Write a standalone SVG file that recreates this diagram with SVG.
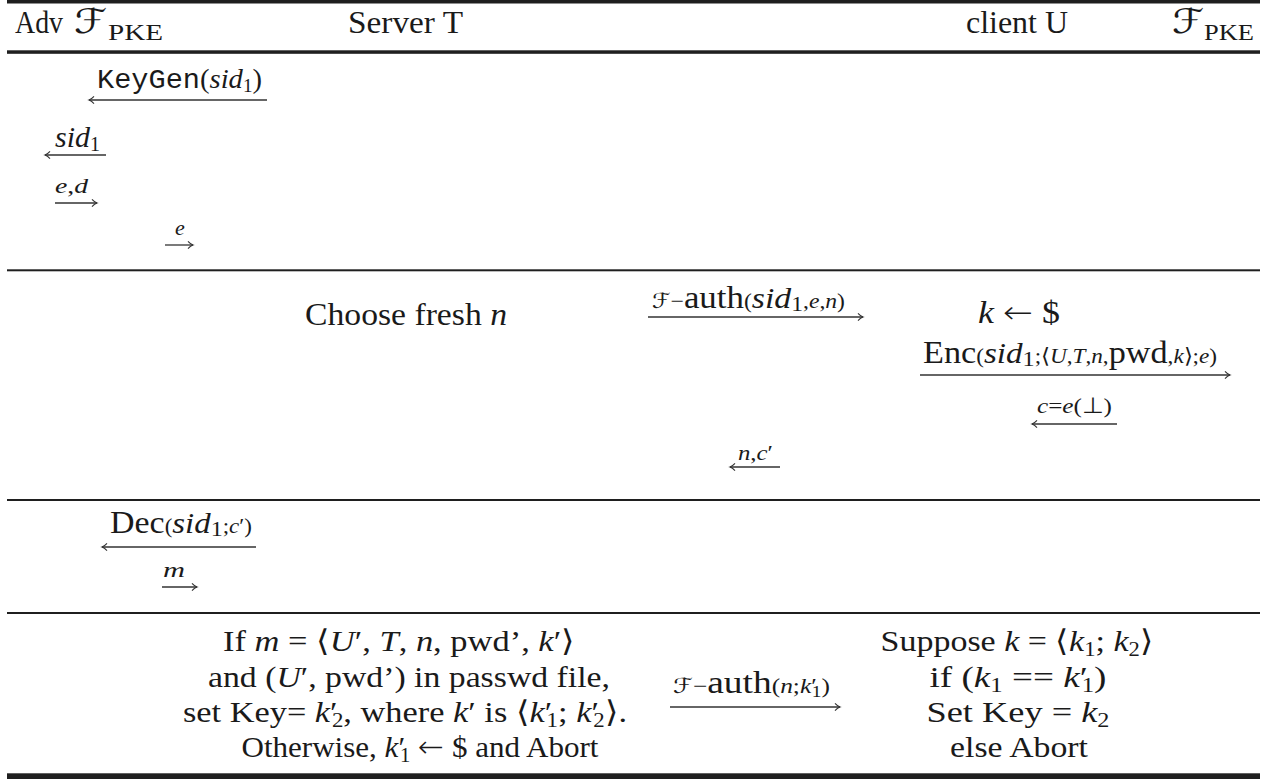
<svg xmlns="http://www.w3.org/2000/svg" width="1267" height="779" viewBox="0 0 1267 779">
  <style>
    .t { font-family: "Liberation Serif", "DejaVu Serif", serif; fill: #1a1a1a; }
    .i { font-style: italic; }
    .m { font-family: "Liberation Mono", monospace; }
    .cal { font-family: "DejaVu Serif", "DejaVu Sans", serif; font-style: italic; }
    .sym { font-family: "DejaVu Sans", sans-serif; font-style: normal; font-weight: 200; }
    .rule { fill: #1f1f1f; }
    .msg { fill: none; stroke: #333; stroke-width: 1.3; marker-end: url(#ah); }
  </style>
  <defs>
    <marker id="ah" markerUnits="userSpaceOnUse" markerWidth="12" markerHeight="12" viewBox="-8 -6 10 12" refX="0" refY="0" orient="auto">
      <path d="M-5,-3.6 Q-2.4,-0.8 0,0 Q-2.4,0.8 -5,3.6" fill="none" stroke="#333" stroke-width="1.1"/>
    </marker>
  </defs>
  <rect width="1267" height="779" fill="#fff"/>

  <!-- table rules -->
  <g id="rules">
    <rect class="rule" x="7" y="0" width="1253" height="3.5"/>
    <rect class="rule" x="7" y="50.3" width="1253" height="3.5"/>
    <rect class="rule" x="7" y="269.3" width="1253" height="2"/>
    <rect class="rule" x="7" y="499" width="1253" height="2"/>
    <rect class="rule" x="7" y="612" width="1253" height="2"/>
    <rect class="rule" x="7" y="773.3" width="1253" height="5.7"/>
  </g>

  <!-- column headers -->
  <g id="hdr-adv"><text class="t" x="15" y="33" font-size="31" textLength="48" lengthAdjust="spacingAndGlyphs">Adv</text></g>
  <g id="hdr-fpke-left">
    <text class="t cal" x="74" y="33" font-size="34" textLength="33" lengthAdjust="spacingAndGlyphs">ℱ</text>
    <text class="t" x="108" y="40" font-size="24" textLength="55" lengthAdjust="spacingAndGlyphs">PKE</text>
  </g>
  <g id="hdr-server"><text class="t" x="348" y="33" font-size="31" textLength="115" lengthAdjust="spacingAndGlyphs">Server T</text></g>
  <g id="hdr-client"><text class="t" x="966" y="33" font-size="31" textLength="102" lengthAdjust="spacingAndGlyphs">client U</text></g>
  <g id="hdr-fpke-right">
    <text class="t cal" x="1172" y="33" font-size="34" textLength="32" lengthAdjust="spacingAndGlyphs">ℱ</text>
    <text class="t" x="1204" y="40" font-size="24" textLength="50" lengthAdjust="spacingAndGlyphs">PKE</text>
  </g>

  <!-- phase 1: key generation -->
  <g id="lbl-keygen">
    <text class="t" x="97" y="88" font-size="27" textLength="165" lengthAdjust="spacingAndGlyphs"><tspan class="m">KeyGen</tspan><tspan>(</tspan><tspan class="i">sid</tspan><tspan font-size="18" dy="4">1</tspan><tspan dy="-4">)</tspan></text>
  </g>
  <g id="lbl-sid1">
    <text class="t" x="55" y="147" textLength="45" lengthAdjust="spacingAndGlyphs"><tspan class="i" font-size="30">sid</tspan><tspan font-size="20" dy="4">1</tspan></text>
  </g>
  <g id="lbl-ed">
    <text class="t" x="55" y="193" font-size="22" textLength="33" lengthAdjust="spacingAndGlyphs"><tspan class="i">e</tspan>,<tspan class="i">d</tspan></text>
  </g>
  <g id="lbl-e">
    <text class="t i" x="175" y="235" font-size="22">e</text>
  </g>

  <!-- phase 2: nonce and encrypted reply -->
  <g id="lbl-auth1">
    <text class="t" x="652" y="308" textLength="193" lengthAdjust="spacingAndGlyphs"><tspan class="cal" font-size="21">ℱ</tspan><tspan font-size="21">−</tspan><tspan font-size="31">auth</tspan><tspan font-size="21">(</tspan><tspan class="i" font-size="30">sid</tspan><tspan font-size="21" dy="3">1</tspan><tspan font-size="21" dy="-3">,</tspan><tspan class="i" font-size="21">e</tspan><tspan font-size="21">,</tspan><tspan class="i" font-size="21">n</tspan><tspan font-size="21">)</tspan></text>
  </g>
  <g id="srv-choose">
    <text class="t" x="305" y="325" font-size="31" textLength="202" lengthAdjust="spacingAndGlyphs">Choose fresh <tspan class="i">n</tspan></text>
  </g>
  <g id="cli-k">
    <text class="t" x="978" y="323" font-size="31" textLength="82" lengthAdjust="spacingAndGlyphs"><tspan class="i">k</tspan> <tspan class="sym">←</tspan> $</text>
  </g>
  <g id="lbl-enc">
    <text class="t" x="923" y="363" font-size="21" textLength="294" lengthAdjust="spacingAndGlyphs"><tspan font-size="31">Enc</tspan>(<tspan class="i" font-size="30">sid</tspan><tspan font-size="22" dy="3">1</tspan><tspan dy="-3">;</tspan><tspan class="sym">⟨</tspan><tspan class="i">U</tspan>,<tspan class="i">T</tspan>,<tspan class="i">n</tspan>,<tspan font-size="31">pwd</tspan>,<tspan class="i">k</tspan><tspan class="sym">⟩</tspan>;<tspan class="i">e</tspan>)</text>
  </g>
  <g id="lbl-c">
    <text class="t" x="1037" y="413" font-size="22" textLength="75" lengthAdjust="spacingAndGlyphs"><tspan class="i">c</tspan>=<tspan class="i">e</tspan>(<tspan class="sym">⊥</tspan>)</text>
  </g>
  <g id="lbl-nc">
    <text class="t" x="738" y="460" font-size="22" textLength="35" lengthAdjust="spacingAndGlyphs"><tspan class="i">n</tspan>,<tspan class="i">c</tspan>′</text>
  </g>

  <!-- phase 3: decryption -->
  <g id="lbl-dec">
    <text class="t" x="110" y="533" font-size="21" textLength="142" lengthAdjust="spacingAndGlyphs"><tspan font-size="31">Dec</tspan>(<tspan class="i" font-size="30">sid</tspan><tspan font-size="22" dy="3">1</tspan><tspan dy="-3">;</tspan><tspan class="i">c</tspan>′)</text>
  </g>
  <g id="lbl-m">
    <text class="t i" x="163" y="577" font-size="22" textLength="22" lengthAdjust="spacingAndGlyphs">m</text>
  </g>

  <!-- phase 4: key confirmation -->
  <g id="srv-check" font-size="30">
    <text class="t" x="399" y="651" text-anchor="middle" textLength="352" lengthAdjust="spacingAndGlyphs">If <tspan class="i">m</tspan> = <tspan class="sym">⟨</tspan><tspan class="i">U</tspan>′, <tspan class="i">T</tspan>, <tspan class="i">n</tspan>, pwd’, <tspan class="i">k</tspan>′<tspan class="sym">⟩</tspan></text>
    <text class="t" x="409" y="687" text-anchor="middle" textLength="402" lengthAdjust="spacingAndGlyphs">and (<tspan class="i">U</tspan>′, pwd’) in passwd file,</text>
    <text class="t" x="405" y="722" text-anchor="middle" textLength="444" lengthAdjust="spacingAndGlyphs">set Key= <tspan class="i">k</tspan>′<tspan font-size="20" dx="-5" dy="5">2</tspan><tspan dy="-5">, where </tspan><tspan class="i">k</tspan>′ is <tspan class="sym">⟨</tspan><tspan class="i">k</tspan>′<tspan font-size="20" dx="-5" dy="5">1</tspan><tspan dy="-5">; </tspan><tspan class="i">k</tspan>′<tspan font-size="20" dx="-5" dy="5">2</tspan><tspan class="sym" dy="-5">⟩</tspan>.</text>
    <text class="t" x="420" y="757" text-anchor="middle" textLength="357" lengthAdjust="spacingAndGlyphs">Otherwise, <tspan class="i">k</tspan>′<tspan font-size="20" dx="-5" dy="5">1</tspan><tspan dy="-5"> </tspan><tspan class="sym">←</tspan> $ and Abort</text>
  </g>
  <g id="lbl-auth2">
    <text class="t" x="673" y="693" font-size="21" textLength="157" lengthAdjust="spacingAndGlyphs"><tspan class="cal">ℱ</tspan>−<tspan font-size="31">auth</tspan>(<tspan class="i">n</tspan>;<tspan class="i">k</tspan>′<tspan font-size="16" dx="-4" dy="4">1</tspan><tspan dy="-4">)</tspan></text>
  </g>
  <g id="cli-check" font-size="30">
    <text class="t" x="1017" y="651" text-anchor="middle" textLength="273" lengthAdjust="spacingAndGlyphs">Suppose <tspan class="i">k</tspan> = <tspan class="sym">⟨</tspan><tspan class="i">k</tspan><tspan font-size="20" dy="5">1</tspan><tspan dy="-5">; </tspan><tspan class="i">k</tspan><tspan font-size="20" dy="5">2</tspan><tspan class="sym" dy="-5">⟩</tspan></text>
    <text class="t" x="1018" y="687" text-anchor="middle" textLength="177" lengthAdjust="spacingAndGlyphs">if (<tspan class="i">k</tspan><tspan font-size="20" dy="5">1</tspan><tspan dy="-5"> == </tspan><tspan class="i">k</tspan>′<tspan font-size="20" dx="-5" dy="5">1</tspan><tspan dy="-5">)</tspan></text>
    <text class="t" x="1018" y="722" text-anchor="middle" textLength="183" lengthAdjust="spacingAndGlyphs">Set Key = <tspan class="i">k</tspan><tspan font-size="20" dy="5">2</tspan></text>
    <text class="t" x="1019" y="757" text-anchor="middle" textLength="138" lengthAdjust="spacingAndGlyphs">else Abort</text>
  </g>

  <!-- message arrows -->
  <g id="connectors">
    <path class="msg" d="M267,100 H89"/>
    <path class="msg" d="M106,155 H45"/>
    <path class="msg" d="M55,203 H97"/>
    <path class="msg" d="M165,245 H193"/>
    <path class="msg" d="M648,317 H863"/>
    <path class="msg" d="M920,375 H1230"/>
    <path class="msg" d="M1117,424 H1032"/>
    <path class="msg" d="M780,467 H730"/>
    <path class="msg" d="M256,547 H102"/>
    <path class="msg" d="M162,587 H197"/>
    <path class="msg" d="M670,707 H840"/>
  </g>
</svg>
